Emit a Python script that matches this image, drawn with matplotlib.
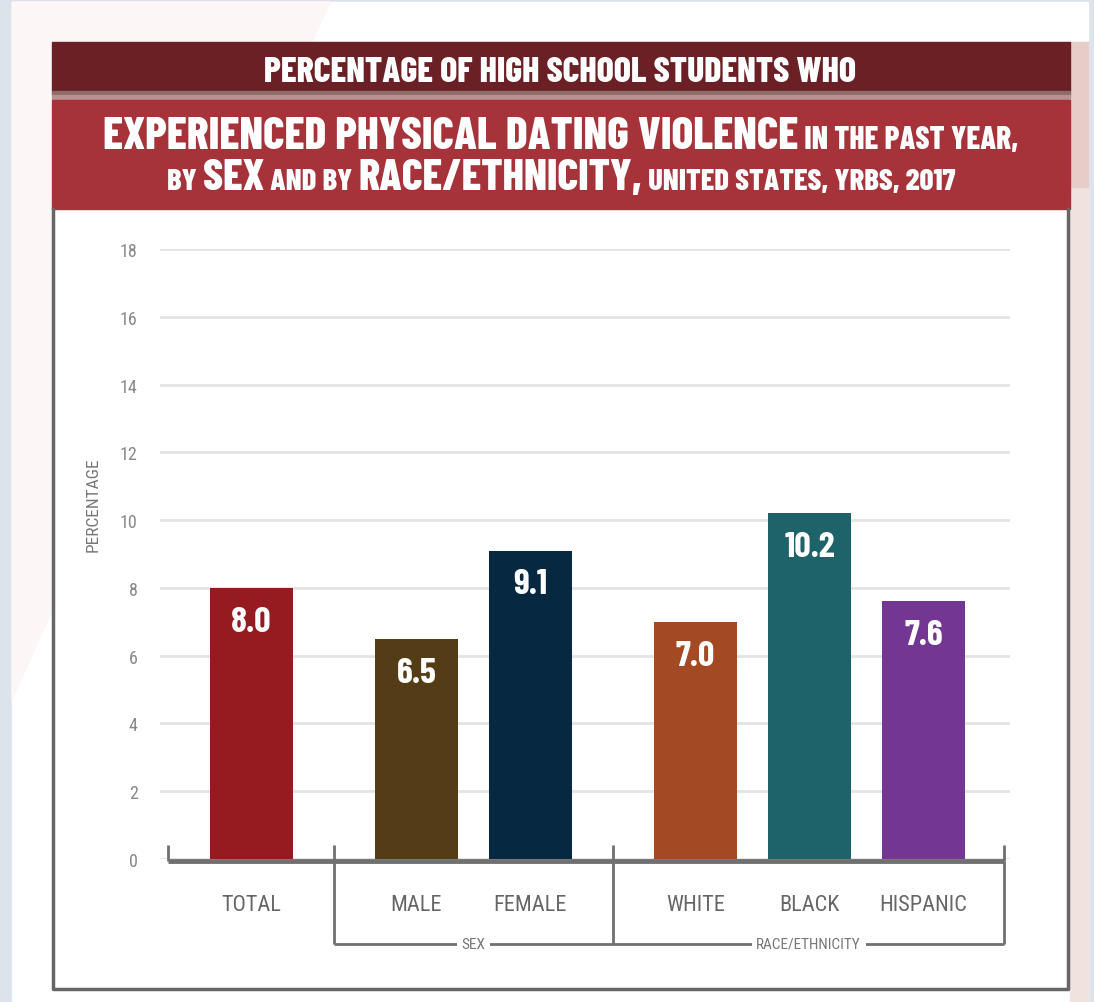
import matplotlib
matplotlib.use('Agg')
import matplotlib.pyplot as plt
from matplotlib.patches import Rectangle, Polygon

TITLE_FONT = ['Barlow Condensed', 'Asap Condensed', 'DejaVu Sans']
plt.rcParams['font.family'] = ['Roboto Condensed', 'Archivo Narrow', 'DejaVu Sans']

# data
categories = ['TOTAL', 'MALE', 'FEMALE', 'WHITE', 'BLACK', 'HISPANIC']
values = [8.0, 6.5, 9.1, 7.0, 10.2, 7.6]
bar_colors = ['#961b20', '#543c16', '#062841', '#a34924', '#1e626a', '#733693']
group_names = ['', 'SEX', 'RACE/ETHNICITY']
group_sizes = [1, 2, 3]
y_ticks = [0, 2, 4, 6, 8, 10, 12, 14, 16, 18]

# x positions: step 1 inside a group, bigger gap between groups
x_pos = []
x = 0.0
for n in group_sizes:
    for k in range(n):
        x_pos.append(x)
        x += 1.0
    x += 0.45
x_pos = [round(v, 2) for v in x_pos]

fig = plt.figure(figsize=(10.94, 10.03), dpi=100)
fig.patch.set_facecolor('#dce3ea')

# background / frame drawn in pixel coords
bg = fig.add_axes([0, 0, 1, 1])
bg.set_xlim(0, 1094)
bg.set_ylim(1003, 0)
bg.axis('off')
bg.add_patch(Rectangle((12, 3), 1076, 1000, color='white', zorder=0))
bg.add_patch(Polygon([(12, 3), (330, 3), (12, 700)], color='#fcf7f6', zorder=0))
bg.add_patch(Rectangle((1070, 43), 18, 960, color='#f0e2df', zorder=0))
bg.add_patch(Rectangle((1070, 43), 18, 145, color='#e6cdc8', zorder=0))
bg.add_patch(Rectangle((52, 210), 1016, 780, color='white', zorder=0.5))
bg.add_patch(Rectangle((52, 43), 1018, 49, color='#6a2024', zorder=1))
bg.add_patch(Rectangle((52, 92), 1018, 4, color='#8f6a6b', zorder=1))
bg.add_patch(Rectangle((52, 96), 1018, 5, color='#b89091', zorder=1))
bg.add_patch(Rectangle((52, 101), 1018, 109, color='#a6333a', zorder=1))
bg.plot([53, 53, 1068, 1068], [210, 990, 990, 210], color='#666666', lw=2.5, zorder=1)

renderer = fig.canvas.get_renderer()


def title_line(parts, y, cx, target_w, cap_px, base=20):
    texts = []
    for s, rel in parts:
        t = bg.text(0, y, s, fontsize=base * rel, color='white', fontweight=800,
                    family=TITLE_FONT, ha='left', va='baseline', zorder=3)
        texts.append((t, rel))
    total = sum(t.get_window_extent(renderer).width for t, _ in texts)
    scale = target_w / total
    # do not let the caps get taller than in the reference
    max_base = cap_px / 0.7 * 72 / 100
    scale = min(scale, max_base / base)
    for t, rel in texts:
        t.set_fontsize(base * rel * scale)
    widths = [t.get_window_extent(renderer).width for t, _ in texts]
    x0 = cx - sum(widths) / 2
    for (t, _), w in zip(texts, widths):
        t.set_x(x0)
        x0 += w


title_line([('PERCENTAGE OF HIGH SCHOOL STUDENTS WHO', 1)], 82, 560, 610, 25)
title_line([('EXPERIENCED PHYSICAL DATING VIOLENCE', 1), (' IN THE PAST YEAR,', 0.69)],
           149, 561, 913, 32)
title_line([('BY ', 0.69), ('SEX', 1), (' AND BY ', 0.69), ('RACE/ETHNICITY,', 1),
            (' UNITED STATES, YRBS, 2017', 0.69)], 190, 561, 827, 31)

bg.text(93, 505, 'PERCENTAGE', rotation=90, ha='center', va='center',
        fontsize=12.5, color='#777777')

# main chart
ax = fig.add_axes([160 / 1094, 143 / 1003, 850 / 1094, 610 / 1003])
ax.set_facecolor('none')
ax.set_ylim(0, 18)
ax.set_xlim(-0.8, 6.66)
for s in ax.spines.values():
    s.set_visible(False)
ax.set_yticks(y_ticks)
ax.set_yticklabels([str(v) for v in y_ticks], color='#888888', fontsize=13)
ax.tick_params(axis='y', length=0, pad=16)
ax.set_xticks([])
ax.yaxis.grid(True, color='#e4e4e4', lw=2)
ax.set_axisbelow(True)

ax.bar(x_pos, values, width=0.73, color=bar_colors, zorder=3)
for xp, v in zip(x_pos, values):
    ax.text(xp, v - 1.0, f'{v:.1f}', ha='center', va='center', color='white',
            fontsize=26, fontweight='bold', family=TITLE_FONT, zorder=4)

# bracket lines
bounds = [x_pos[0] - 0.73]
i = 0
for n in group_sizes[:-1]:
    i += n
    bounds.append((x_pos[i - 1] + x_pos[i]) / 2)
bounds.append(x_pos[-1] + 0.71)

line_kw = dict(color='#707070', clip_on=False, zorder=5, solid_capstyle='butt')
ax.plot([bounds[0], bounds[-1]], [-0.06, -0.06], lw=3.5, **line_kw)
for b in bounds:
    ax.plot([b, b], [-0.06, 0.4], lw=2, **line_kw)
for b in bounds[1:]:
    ax.plot([b, b], [-0.06, -2.5], lw=2, **line_kw)
ax.plot([bounds[1], bounds[-1]], [-2.5, -2.5], lw=2, **line_kw)

for xp, c in zip(x_pos, categories):
    ax.text(xp, -1.33, c, ha='center', va='center', color='#666666', fontsize=16)

for gi, name in enumerate(group_names):
    if not name:
        continue
    mid = (bounds[gi] + bounds[gi + 1]) / 2
    ax.text(mid, -2.5, name, ha='center', va='center', color='#777777', fontsize=11,
            zorder=6, bbox=dict(boxstyle='square,pad=0.3', fc='white', ec='none'))

fig.savefig('out.png', dpi=100, facecolor=fig.get_facecolor())
